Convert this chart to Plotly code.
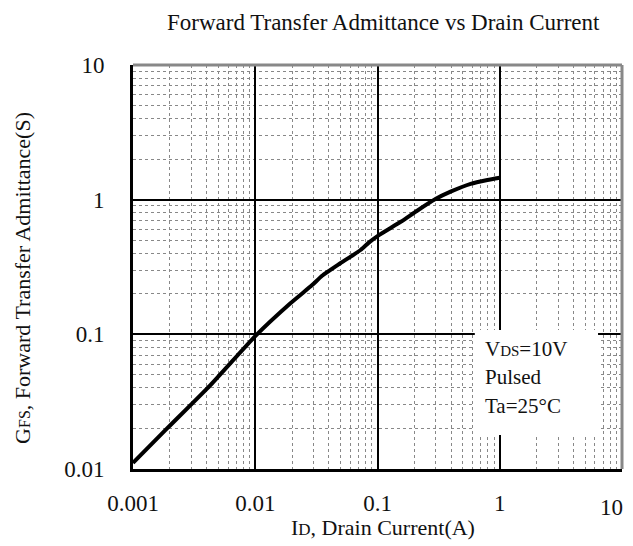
import plotly.graph_objects as go

# Data
drain_current = [0.001, 0.0019, 0.0043, 0.01, 0.0194, 0.0292, 0.0352, 0.0497,
                 0.0727, 0.0849, 0.1, 0.155, 0.211, 0.298, 0.396, 0.578, 0.793, 1.0]
gfs = [0.0111, 0.020, 0.042, 0.097, 0.170, 0.232, 0.272, 0.337,
       0.423, 0.480, 0.537, 0.685, 0.828, 1.01, 1.146, 1.31, 1.40, 1.455]

x_tickvals = [0.001, 0.01, 0.1, 1, 10]
x_ticktext = ["0.001", "0.01", "0.1", "1", ""]  # last label drawn as annotation below
x_last_label = "10"
y_tickvals = [0.01, 0.1, 1, 10]
y_ticktext = ["0.01", "0.1", "1", "10"]

FONT = "Liberation Serif"

x_minor = [m * 10 ** e for e in range(-3, 1) for m in range(2, 10)]
y_minor = [m * 10 ** e for e in range(-2, 1) for m in range(2, 10)]

fig = go.Figure()
fig.add_trace(go.Scatter(x=drain_current, y=gfs, mode="lines",
                         line=dict(color="black", width=4, shape="spline", smoothing=0.5),
                         hoverinfo="skip", showlegend=False))

axis_common = dict(
    type="log", showgrid=True, gridcolor="black", gridwidth=2,
    showline=True, linecolor="black", linewidth=3, zeroline=False,
    ticks="", tickfont=dict(family=FONT, size=23, color="#111"), automargin=False,
)
fig.update_xaxes(**axis_common, range=[-3, 1], tickvals=x_tickvals, ticktext=x_ticktext,
                 ticklabelstandoff=11,
                 minor=dict(tickvals=x_minor, showgrid=True, gridcolor="#888",
                            griddash="dot", gridwidth=1, ticks=""))
fig.update_yaxes(**axis_common, range=[-2, 1], tickvals=y_tickvals, ticktext=y_ticktext,
                 ticklabelstandoff=21,
                 minor=dict(tickvals=y_minor, showgrid=True, gridcolor="#888",
                            griddash="dot", gridwidth=1, ticks=""))

shapes = [
    # white box behind the conditions text
    dict(type="rect", xref="paper", yref="paper", x0=0.699, x1=0.951, y0=0.084, y1=0.344,
         fillcolor="white", line=dict(width=0), layer="above"),
    # top and right borders (gray)
    dict(type="line", xref="paper", yref="paper", x0=0, x1=1, y0=1, y1=1,
         line=dict(color="#888", width=3), layer="above"),
    dict(type="line", xref="paper", yref="paper", x0=1, x1=1, y0=0, y1=1,
         line=dict(color="#888", width=3), layer="above"),
]

sm = "<span style='font-size:{}px'>{}</span>"
annotations = [
    dict(text="Forward Transfer Admittance vs Drain Current", x=0.513, y=1.106,
         xref="paper", yref="paper", showarrow=False, xanchor="center", yanchor="middle",
         font=dict(family=FONT, size=23, color="#111")),
    dict(text="I" + sm.format(17, "D") + ", Drain Current(A)", x=0.511, y=-0.146,
         xref="paper", yref="paper", showarrow=False, xanchor="center", yanchor="middle",
         font=dict(family=FONT, size=22, color="#111")),
    dict(text="G" + sm.format(16, "FS") + ", Forward Transfer Admittance(S)", x=-0.225, y=0.473,
         xref="paper", yref="paper", showarrow=False, xanchor="center", yanchor="middle",
         textangle=-90, font=dict(family=FONT, size=22, color="#111")),
    dict(text="V" + sm.format(15, "DS") + "=10V", x=0.716, y=0.297, xref="paper", yref="paper",
         showarrow=False, xanchor="left", yanchor="middle",
         font=dict(family=FONT, size=21, color="#111")),
    dict(text="Pulsed", x=0.716, y=0.228, xref="paper", yref="paper",
         showarrow=False, xanchor="left", yanchor="middle",
         font=dict(family=FONT, size=21, color="#111")),
    dict(text="Ta=25°C", x=0.716, y=0.156, xref="paper", yref="paper",
         showarrow=False, xanchor="left", yanchor="middle",
         font=dict(family=FONT, size=21, color="#111")),
    # last x tick label, kept inside the window
    dict(text=x_last_label, x=1.007, y=-0.095, xref="paper", yref="paper",
         showarrow=False, xanchor="right", yanchor="middle",
         font=dict(family=FONT, size=23, color="#111")),
]

fig.update_layout(
    width=625, height=538,
    margin=dict(l=125, r=11, t=57, b=77, autoexpand=False),
    paper_bgcolor="white", plot_bgcolor="white",
    shapes=shapes, annotations=annotations, showlegend=False,
)

fig.write_html("out.html")
